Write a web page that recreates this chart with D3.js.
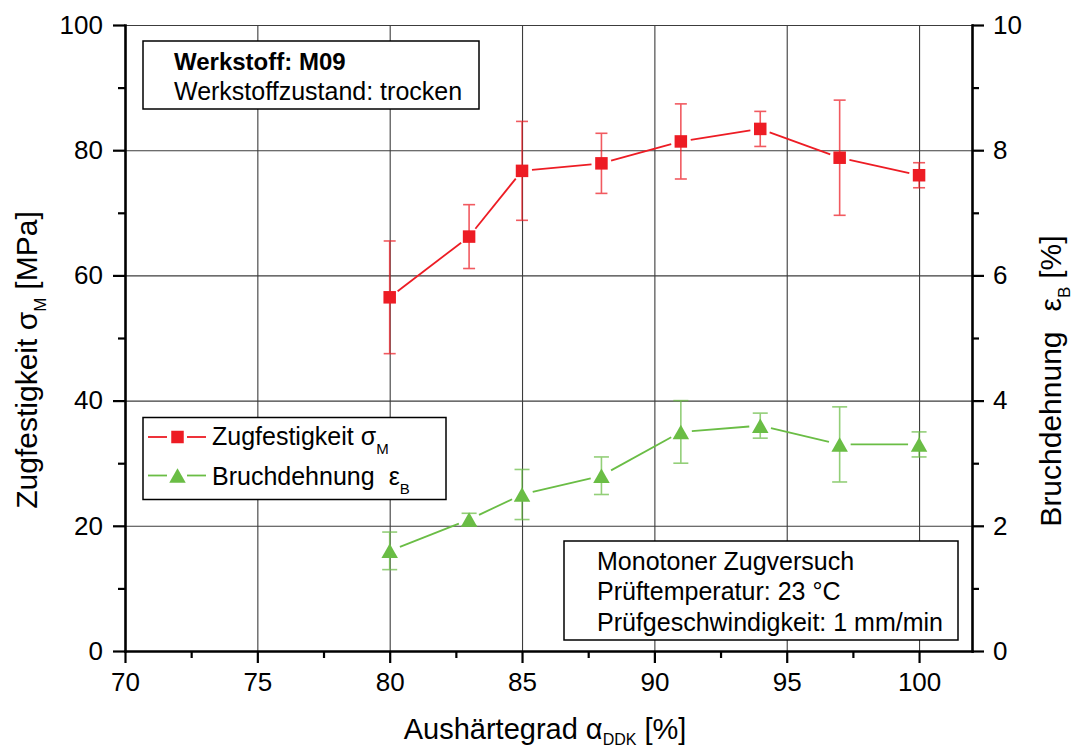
<!DOCTYPE html>
<html>
<head>
<meta charset="utf-8">
<script src="https://cdn.jsdelivr.net/npm/d3@7"></script>
<style>
  html, body { margin: 0; padding: 0; background: #fff; }
  svg { display: block; font-family: "Liberation Sans", Arial, sans-serif; }
</style>
</head>
<body>
<script>
// Aushärtegrad (degree of cure) in %
const alpha = [80, 83, 85, 88, 91, 94, 97, 100];
// Zugfestigkeit sigma_M in MPa, with standard deviation
const zugfestigkeit = [56.5, 66.2, 76.7, 77.9, 81.4, 83.4, 78.8, 76.0];
const zugfestigkeitErr = [9.0, 5.1, 7.9, 4.8, 6.0, 2.8, 9.2, 2.0];
// Bruchdehnung epsilon_B in %, with standard deviation
const bruchdehnung = [1.6, 2.1, 2.5, 2.8, 3.5, 3.6, 3.3, 3.3];
const bruchdehnungErr = [0.3, 0.1, 0.4, 0.3, 0.5, 0.2, 0.6, 0.2];

// Tick values
const xMajor = [70, 75, 80, 85, 90, 95, 100];
const xMinor = [72.5, 77.5, 82.5, 87.5, 92.5, 97.5];
const yLeftMajor = [0, 20, 40, 60, 80, 100];
const yLeftMinor = [10, 30, 50, 70, 90];
const yRightMajor = [0, 2, 4, 6, 8, 10];
const yRightMinor = [1, 3, 5, 7, 9];

const W = 1075, H = 753;
const L = 125, R = 972, T = 25, B = 651;
const RED = "#ed1c24", GREEN = "#6abd45";

const svg = d3.select("body").append("svg").attr("width", W).attr("height", H);

const x = d3.scaleLinear().domain([70, 102]).range([L, R]);
const yL = d3.scaleLinear().domain([0, 100]).range([B, T]);
const yR = d3.scaleLinear().domain([0, 10]).range([B, T]);

// Grid
const gx = svg.append("g").attr("transform", `translate(0,${B})`)
  .call(d3.axisBottom(x).tickValues([75, 80, 85, 90, 95, 100]).tickSize(-(B - T)).tickFormat(""));
gx.select(".domain").remove();
gx.selectAll("line").attr("stroke", "#3c3c3c").attr("stroke-width", 1.1);

const gy = svg.append("g").attr("transform", `translate(${L},0)`)
  .call(d3.axisLeft(yL).tickValues([20, 40, 60, 80, 100]).tickSize(-(R - L)).tickFormat(""));
gy.select(".domain").remove();
gy.selectAll("line").attr("stroke", "#3c3c3c").attr("stroke-width", 1.1);

// Axes
function styleAxis(g) {
  g.select(".domain").attr("stroke", "#000").attr("stroke-width", 2.6).attr("stroke-linecap", "square");
  g.selectAll(".tick line").attr("stroke", "#000").attr("stroke-width", 2.2);
  g.selectAll(".tick text").attr("font-size", 26).attr("fill", "#000")
    .attr("font-family", '"Liberation Sans", Arial, sans-serif');
}

const axB = svg.append("g").attr("transform", `translate(0,${B})`)
  .call(d3.axisBottom(x).tickValues(xMajor).tickSize(12).tickSizeOuter(0).tickPadding(10));
styleAxis(axB);
const axBm = svg.append("g").attr("transform", `translate(0,${B})`)
  .call(d3.axisBottom(x).tickValues(xMinor).tickSize(7).tickSizeOuter(0).tickFormat(""));
axBm.select(".domain").remove();
styleAxis(axBm);

const axL = svg.append("g").attr("transform", `translate(${L},0)`)
  .call(d3.axisLeft(yL).tickValues(yLeftMajor).tickSize(12).tickSizeOuter(0).tickPadding(10));
styleAxis(axL);
const axLm = svg.append("g").attr("transform", `translate(${L},0)`)
  .call(d3.axisLeft(yL).tickValues(yLeftMinor).tickSize(7).tickSizeOuter(0).tickFormat(""));
axLm.select(".domain").remove();
styleAxis(axLm);

const axR = svg.append("g").attr("transform", `translate(${R},0)`)
  .call(d3.axisRight(yR).tickValues(yRightMajor).tickSize(12).tickSizeOuter(0).tickPadding(9));
styleAxis(axR);
const axRm = svg.append("g").attr("transform", `translate(${R},0)`)
  .call(d3.axisRight(yR).tickValues(yRightMinor).tickSize(7).tickSizeOuter(0).tickFormat(""));
axRm.select(".domain").remove();
styleAxis(axRm);

// Series drawing helper: trimmed connecting lines, error bars, markers
function drawSeries(xs, ys, errs, yScale, color, capHalf, gap, markerFn) {
  const g = svg.append("g");
  const pts = xs.map((v, i) => [x(v), yScale(ys[i])]);
  for (let i = 0; i < pts.length - 1; i++) {
    const [x1, y1] = pts[i], [x2, y2] = pts[i + 1];
    const len = Math.hypot(x2 - x1, y2 - y1);
    const ux = (x2 - x1) / len, uy = (y2 - y1) / len;
    g.append("line")
      .attr("x1", x1 + ux * gap).attr("y1", y1 + uy * gap)
      .attr("x2", x2 - ux * gap).attr("y2", y2 - uy * gap)
      .attr("stroke", color).attr("stroke-width", 1.8);
  }
  xs.forEach((v, i) => {
    const cx = x(v), top = yScale(ys[i] + errs[i]), bot = yScale(ys[i] - errs[i]);
    const eg = g.append("g").attr("stroke", color).attr("stroke-width", 1.6).attr("opacity", 0.72);
    eg.append("line").attr("x1", cx).attr("x2", cx).attr("y1", top).attr("y2", bot);
    eg.append("line").attr("x1", cx - capHalf).attr("x2", cx + capHalf).attr("y1", top).attr("y2", top);
    eg.append("line").attr("x1", cx - capHalf).attr("x2", cx + capHalf).attr("y1", bot).attr("y2", bot);
  });
  xs.forEach((v, i) => markerFn(g, x(v), yScale(ys[i])));
}

function square(g, cx, cy, s = 12.5) {
  g.append("rect").attr("x", cx - s / 2).attr("y", cy - s / 2).attr("width", s).attr("height", s)
    .attr("fill", RED);
}
function triangle(g, cx, cy, w = 16.5, h = 14.5) {
  g.append("path").attr("d", `M${cx},${cy - h / 2}L${cx + w / 2},${cy + h / 2}L${cx - w / 2},${cy + h / 2}Z`)
    .attr("fill", GREEN);
}

drawSeries(alpha, zugfestigkeit, zugfestigkeitErr, yL, RED, 6, 10, square);
drawSeries(alpha, bruchdehnung, bruchdehnungErr, yR, GREEN, 7.5, 11, triangle);

// Info box: material
const box1 = svg.append("g");
box1.append("rect").attr("x", 143).attr("y", 41).attr("width", 336).attr("height", 68)
  .attr("fill", "#fff").attr("stroke", "#000").attr("stroke-width", 1.5);
box1.append("text").attr("x", 174).attr("y", 70).attr("font-size", 24).attr("font-weight", "bold")
  .text("Werkstoff: M09");
box1.append("text").attr("x", 174).attr("y", 100).attr("font-size", 25)
  .text("Werkstoffzustand: trocken");

// Legend
const leg = svg.append("g");
leg.append("rect").attr("x", 143).attr("y", 417.5).attr("width", 303).attr("height", 82)
  .attr("fill", "#fff").attr("stroke", "#000").attr("stroke-width", 1.5);
const legRows = [
  { y: 437, color: RED, marker: square, label: "Zugfestigkeit", sym: "σ", sub: "M", symDx: 7, base: 445 },
  { y: 475.5, color: GREEN, marker: triangle, label: "Bruchdehnung", sym: "ε", sub: "B", symDx: 14, base: 485 }
];
legRows.forEach(r => {
  leg.append("line").attr("x1", 148).attr("x2", 167).attr("y1", r.y).attr("y2", r.y)
    .attr("stroke", r.color).attr("stroke-width", 1.8);
  leg.append("line").attr("x1", 187).attr("x2", 206).attr("y1", r.y).attr("y2", r.y)
    .attr("stroke", r.color).attr("stroke-width", 1.8);
  r.marker(leg, 177.5, r.y);
  const t = leg.append("text").attr("x", 212).attr("y", r.base).attr("font-size", 25);
  t.append("tspan").text(r.label);
  t.append("tspan").attr("dx", r.symDx).text(r.sym);
  t.append("tspan").attr("font-size", 15).attr("dy", 9).text(r.sub);
});

// Info box: test conditions
const box2 = svg.append("g");
box2.append("rect").attr("x", 564).attr("y", 541).attr("width", 394).attr("height", 99)
  .attr("fill", "#fff").attr("stroke", "#000").attr("stroke-width", 1.5);
["Monotoner Zugversuch", "Prüftemperatur: 23 °C", "Prüfgeschwindigkeit: 1 mm/min"].forEach((s, i) => {
  box2.append("text").attr("x", 597).attr("y", 570 + i * 30.3).attr("font-size", 25).text(s);
});

// Axis titles
const tx = svg.append("text").attr("x", 545).attr("y", 739).attr("font-size", 29).attr("text-anchor", "middle");
tx.append("tspan").text("Aushärtegrad ");
tx.append("tspan").text("α");
tx.append("tspan").attr("font-size", 16).attr("dy", 6).text("DDK");
tx.append("tspan").attr("dy", -6).attr("dx", 8).text("[%]");

const tl = svg.append("text").attr("transform", "translate(37,360) rotate(-90)")
  .attr("font-size", 30).attr("text-anchor", "middle");
tl.append("tspan").text("Zugfestigkeit ");
tl.append("tspan").text("σ");
tl.append("tspan").attr("font-size", 17).attr("dy", 9).text("M");
tl.append("tspan").attr("dy", -9).attr("dx", 8).text("[MPa]");

const tr = svg.append("text").attr("transform", "translate(1061,381) rotate(-90)")
  .attr("font-size", 30).attr("text-anchor", "middle");
tr.append("tspan").text("Bruchdehnung");
tr.append("tspan").attr("dx", 20).text("ε");
tr.append("tspan").attr("font-size", 17).attr("dy", 9).text("B");
tr.append("tspan").attr("dy", -9).attr("dx", 8).text("[%]");
</script>
</body>
</html>
